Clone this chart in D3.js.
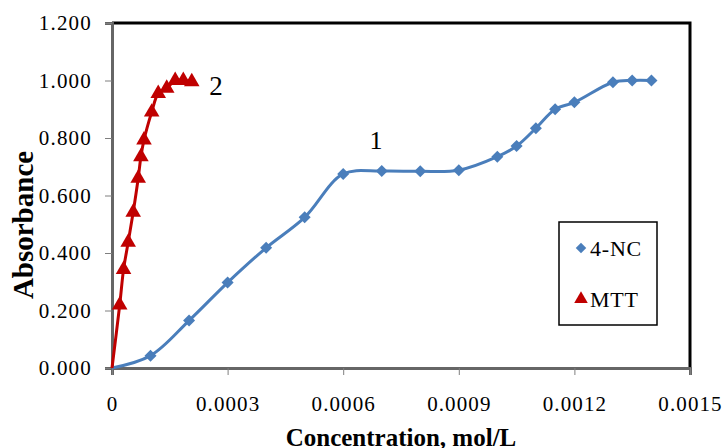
<!DOCTYPE html>
<html><head><meta charset="utf-8">
<script src="https://cdn.jsdelivr.net/npm/d3@7"></script>
<style>body{margin:0;background:#fff}svg{display:block}</style>
</head><body>
<svg id="c" width="724" height="448"></svg>
<script>
const ncX = [0, 0.0001, 0.0002, 0.0003, 0.0004, 0.0005, 0.0006, 0.0007, 0.0008, 0.0009, 0.001, 0.00105, 0.0011, 0.00115, 0.0012, 0.0013, 0.00135, 0.0014];
const ncY = [0, 0.043, 0.165, 0.297, 0.418, 0.524, 0.675, 0.685, 0.684, 0.688, 0.735, 0.772, 0.834, 0.900, 0.924, 0.994, 1.000, 1.000];
const ncMarker = [false, true, true, true, true, true, true, true, true, true, true, true, true, true, true, true, true, true];
const mttX = [0, 0.00002, 0.00003, 0.000042, 0.000055, 0.000068, 0.000075, 0.000083, 0.000103, 0.00012, 0.000142, 0.000164, 0.000185, 0.000207];
const mttY = [0, 0.219, 0.343, 0.437, 0.542, 0.660, 0.735, 0.793, 0.890, 0.955, 0.973, 1.000, 1.000, 0.996];
const mttMarker = [false, true, true, true, true, true, true, true, true, true, true, true, true, true];
const xTicks = [0, 0.0003, 0.0006, 0.0009, 0.0012, 0.0015];
const xTickLabels = ["0", "0.0003", "0.0006", "0.0009", "0.0012", "0.0015"];
const yTicks = [0, 0.2, 0.4, 0.6, 0.8, 1.0, 1.2];
const yTickLabels = ["0.000", "0.200", "0.400", "0.600", "0.800", "1.000", "1.200"];
const seriesNames = ["4-NC", "MTT"];
const curveLabels = ["1", "2"];

const svg = d3.select("#c");
const L = 112, R = 690, T = 23, B = 368;
const x = d3.scaleLinear().domain([0, 0.0015]).range([L, R]);
const y = d3.scaleLinear().domain([0, 1.2]).range([B, T]);
const serif = "'Liberation Serif','Times New Roman',serif";
const blue = "#4A7EBB", red = "#C00000";

// frame top/right
svg.append("path").attr("d", `M${L},${T}H${R}V${B}`).attr("fill", "none").attr("stroke", "#000").attr("stroke-width", 3);

// axes
const yAxis = d3.axisLeft(y).tickValues(yTicks).tickFormat((d, i) => yTickLabels[i]).tickSize(7).tickPadding(13);
const gy = svg.append("g").attr("transform", `translate(${L},0)`).call(yAxis);
gy.select(".domain").attr("stroke", "#666").attr("stroke-width", 3);
gy.selectAll(".tick line").attr("stroke", "#7f7f7f").attr("stroke-width", 1);
gy.selectAll(".tick text").style("font-family", serif).style("font-size", "21px").style("letter-spacing", "1.2px").attr("fill", "#000");

const xAxis = d3.axisBottom(x).tickValues(xTicks).tickFormat((d, i) => xTickLabels[i]).tickSize(7).tickPadding(21);
const gx = svg.append("g").attr("transform", `translate(0,${B})`).call(xAxis);
gx.select(".domain").attr("stroke", "#666").attr("stroke-width", 3);
gx.selectAll(".tick line").attr("stroke", "#7f7f7f").attr("stroke-width", 1);
gx.selectAll(".tick text").style("font-family", serif).style("font-size", "21px").style("letter-spacing", "1.1px").attr("fill", "#000");

// titles
svg.append("text").attr("transform", "translate(33,225) rotate(-90)").attr("text-anchor", "middle")
  .style("font-family", serif).style("font-weight", "bold").style("font-size", "29px").text("Absorbance");
svg.append("text").attr("x", 401).attr("y", 446).attr("text-anchor", "middle")
  .style("font-family", serif).style("font-weight", "bold").style("font-size", "25px").text("Concentration, mol/L");

const line = d3.line().x(d => x(d[0])).y(d => y(d[1])).curve(d3.curveCatmullRom.alpha(0.5));
const nc = ncX.map((v, i) => [v, ncY[i], ncMarker[i]]);
const mtt = mttX.map((v, i) => [v, mttY[i], mttMarker[i]]);

svg.append("path").datum(nc).attr("d", line).attr("fill", "none").attr("stroke", blue).attr("stroke-width", 3);
svg.append("path").datum(mtt).attr("d", line).attr("fill", "none").attr("stroke", red).attr("stroke-width", 3);

const diamond = d3.symbol().type(d3.symbolDiamond2).size(92);
const tri = d3.symbol().type(d3.symbolTriangle).size(105);
svg.append("g").selectAll("path").data(nc.filter(d => d[2])).join("path")
  .attr("transform", d => `translate(${x(d[0])},${y(d[1])})`).attr("d", diamond).attr("fill", blue);
svg.append("g").selectAll("path").data(mtt.filter(d => d[2])).join("path")
  .attr("transform", d => `translate(${x(d[0])},${y(d[1])})`).attr("d", tri).attr("fill", red);

// curve labels
svg.append("text").attr("x", 376).attr("y", 149).attr("text-anchor", "middle").style("font-family", serif).style("font-size", "26px").text(curveLabels[0]);
svg.append("text").attr("x", 216).attr("y", 95).attr("text-anchor", "middle").style("font-family", serif).style("font-size", "27px").text(curveLabels[1]);

// legend
const lg = svg.append("g");
lg.append("rect").attr("x", 559).attr("y", 222).attr("width", 98).attr("height", 103).attr("fill", "#fff").attr("stroke", "#000").attr("stroke-width", 1.5);
lg.append("path").attr("transform", "translate(581,248)").attr("d", d3.symbol().type(d3.symbolDiamond2).size(70)).attr("fill", blue);
lg.append("path").attr("transform", "translate(581,299)").attr("d", d3.symbol().type(d3.symbolTriangle).size(80)).attr("fill", red);
lg.append("text").attr("x", 590).attr("y", 256).style("font-family", serif).style("font-size", "22px").style("letter-spacing", "0.8px").text(seriesNames[0]);
lg.append("text").attr("x", 590).attr("y", 307).style("font-family", serif).style("font-size", "22px").style("letter-spacing", "0.8px").text(seriesNames[1]);
</script>
</body></html>
